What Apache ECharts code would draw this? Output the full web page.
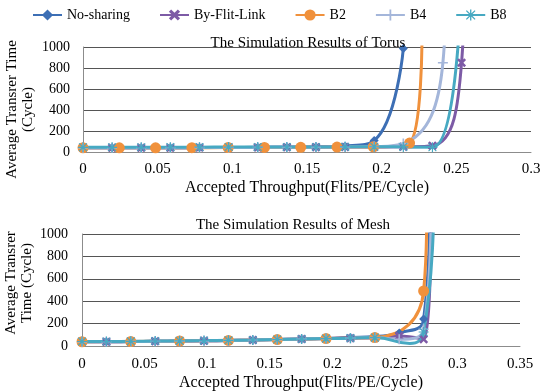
<!DOCTYPE html>
<html>
<head>
<meta charset="utf-8">
<script src="https://cdn.jsdelivr.net/npm/echarts@6/dist/echarts.min.js"></script>
<style>
  html, body { margin: 0; padding: 0; background: #fff; }
  #chart { width: 543px; height: 391px; }
</style>
</head>
<body>
<div id="chart"></div>
<script>
// series names and colours
const names = ['No-sharing', 'By-Flit-Link', 'B2', 'B4', 'B8'];
const colors = ['#3d6fb5', '#7d5ba6', '#f0913c', '#a4b6da', '#47a9c2'];

// Torus: [accepted throughput, average transfer time]
const torusNoSharing = [[0,40],[0.0195,40],[0.039,40],[0.0585,41],[0.078,42],[0.0975,43],[0.117,45],[0.1365,47],[0.156,50],[0.1755,58],[0.195,110],[0.2145,985]];
const torusByFlit = [[0,40],[0.0195,40],[0.039,40],[0.0585,41],[0.078,42],[0.0975,43],[0.117,44],[0.1365,45],[0.156,46],[0.1755,47],[0.195,48],[0.2145,50],[0.234,60],[0.2535,850],[0.2555,1600]];
const torusB2 = [[0,40],[0.0243,40],[0.0486,40],[0.0729,41],[0.0972,42],[0.1215,43],[0.1458,45],[0.1701,47],[0.1944,50],[0.2187,85],[0.227,1100]];
const torusB4 = [[0,40],[0.0195,40],[0.039,40],[0.0585,41],[0.078,42],[0.0975,43],[0.117,44],[0.1365,45],[0.156,46],[0.1755,48],[0.195,52],[0.2145,80],[0.241,850],[0.243,1500]];
const torusB8 = [[0,45],[0.0195,45],[0.039,45],[0.0585,46],[0.078,46],[0.0975,47],[0.117,47],[0.1365,48],[0.156,48],[0.1755,49],[0.195,50],[0.2145,48],[0.234,45],[0.253,1500]];

// Mesh
const meshNoSharing = [[0,38],[0.0195,38],[0.039,40],[0.0585,42],[0.078,44],[0.0975,46],[0.117,50],[0.1365,53],[0.156,57],[0.1755,62],[0.195,68],[0.2145,75],[0.234,85],[0.2535,116],[0.273,240],[0.278,1200]];
const meshByFlit = [[0,38],[0.0195,38],[0.039,40],[0.0585,42],[0.078,44],[0.0975,46],[0.117,50],[0.1365,53],[0.156,57],[0.1755,62],[0.195,66],[0.2145,70],[0.234,72],[0.2535,90],[0.273,60],[0.279,1200]];
const meshB2 = [[0,38],[0.039,40],[0.078,44],[0.117,50],[0.156,57],[0.195,66],[0.234,75],[0.273,491],[0.2755,1200]];
const meshB4 = [[0,38],[0.0195,38],[0.039,40],[0.0585,42],[0.078,44],[0.0975,46],[0.117,50],[0.1365,53],[0.156,57],[0.1755,62],[0.195,66],[0.2145,70],[0.234,75],[0.2535,60],[0.273,150],[0.279,1200]];
const meshB8 = [[0,40],[0.0195,40],[0.039,42],[0.0585,44],[0.078,46],[0.0975,48],[0.117,51],[0.1365,54],[0.156,58],[0.1755,62],[0.195,66],[0.2145,70],[0.234,75],[0.262,22,'none'],[0.273,125],[0.281,1200]];

const symbols = [
  'diamond',
  'path://M2,0L5,3L8,0L10,2L7,5L10,8L8,10L5,7L2,10L0,8L3,5L0,2Z',
  'circle',
  'path://M4.2,0H5.8V4.2H10V5.8H5.8V10H4.2V5.8H0V4.2H4.2Z',
  'path://M4.4,0H5.6V4.4H10V5.6H5.6V10H4.4V5.6H0V4.4H4.4Z M1.5,0.7L5,4.2L8.5,0.7L9.3,1.5L5.8,5L9.3,8.5L8.5,9.3L5,5.8L1.5,9.3L0.7,8.5L4.2,5L0.7,1.5Z'
];
const symbolSizes = [9, 9, 11, 10, 10];

const font = 'Liberation Serif';
const chart = echarts.init(document.getElementById('chart'));

function mkSeries(data, idx, axis) {
  // a third entry 'none' marks a point that only shapes the curve
  const items = data.map(d => d[2] === 'none'
    ? { value: [d[0], d[1]], symbol: 'none' }
    : [d[0], d[1]]);
  return {
    name: names[idx],
    type: 'line',
    xAxisIndex: axis,
    yAxisIndex: axis,
    data: items,
    smooth: 0.5,
    symbol: symbols[idx],
    symbolSize: symbolSizes[idx],
    showAllSymbol: true,
    clip: true,
    lineStyle: { color: colors[idx], width: 3 },
    itemStyle: { color: colors[idx] },
    emphasis: { disabled: true }
  };
}

function xAx(grid, max, margin, gap) {
  return {
    type: 'value', gridIndex: grid, min: 0, max: max, interval: 0.05,
    name: 'Accepted Throughput(Flits/PE/Cycle)', nameLocation: 'middle', nameGap: gap,
    nameMoveOverlap: false,
    nameTextStyle: { fontFamily: font, fontSize: 16, color: '#000' },
    axisLine: { show: true, lineStyle: { color: '#8c8c8c' } },
    axisTick: { show: false },
    splitLine: { show: false },
    axisLabel: { fontFamily: font, fontSize: 15, color: '#000', margin: margin }
  };
}

function yAx(grid, name, margin, pad) {
  return {
    type: 'value', gridIndex: grid, min: 0, max: 1000, interval: 200,
    name: name, nameLocation: 'middle', nameGap: 47,
    nameMoveOverlap: false,
    nameTextStyle: { fontFamily: font, fontSize: 15, color: '#000', lineHeight: 16, padding: pad },
    axisLine: { show: true, lineStyle: { color: '#8c8c8c' } },
    axisTick: { show: false },
    splitLine: { show: true, lineStyle: { color: '#555', width: 1 } },
    axisLabel: { fontFamily: font, fontSize: 14, color: '#000', margin: margin, formatter: v => String(v) }
  };
}

chart.setOption({
  animation: false,
  legend: {
    data: names, top: 8, left: 32, padding: 0, itemWidth: 29, itemHeight: 14, itemGap: 29,
    textStyle: { fontFamily: font, fontSize: 14, color: '#000' }
  },
  title: [
    { text: 'The Simulation Results of Torus', left: 303, top: 31, textAlign: 'center',
      textStyle: { fontFamily: font, fontSize: 15, fontWeight: 'normal', color: '#000' } },
    { text: 'The Simulation Results of Mesh', left: 288, top: 213, textAlign: 'center',
      textStyle: { fontFamily: font, fontSize: 15, fontWeight: 'normal', color: '#000' } }
  ],
  grid: [
    { left: 83, right: 12, top: 47, height: 105, outerBoundsMode: 'none', containLabel: false },
    { left: 82, right: 23, top: 234, height: 112, outerBoundsMode: 'none', containLabel: false }
  ],
  xAxis: [xAx(0, 0.3, 10, 28), xAx(1, 0.35, 11, 29)],
  yAxis: [yAx(0, 'Average Transrer Time\n(Cycle)', 13, [0, 20, 0, 0]), yAx(1, 'Average Transrer\nTime (Cycle)', 14, [0, 0, 0, 14])],
  series: [
    mkSeries(torusNoSharing, 0, 0),
    mkSeries(torusByFlit, 1, 0),
    mkSeries(torusB2, 2, 0),
    mkSeries(torusB4, 3, 0),
    mkSeries(torusB8, 4, 0),
    mkSeries(meshNoSharing, 0, 1),
    mkSeries(meshByFlit, 1, 1),
    mkSeries(meshB2, 2, 1),
    mkSeries(meshB4, 3, 1),
    mkSeries(meshB8, 4, 1)
  ]
});
</script>
</body>
</html>
